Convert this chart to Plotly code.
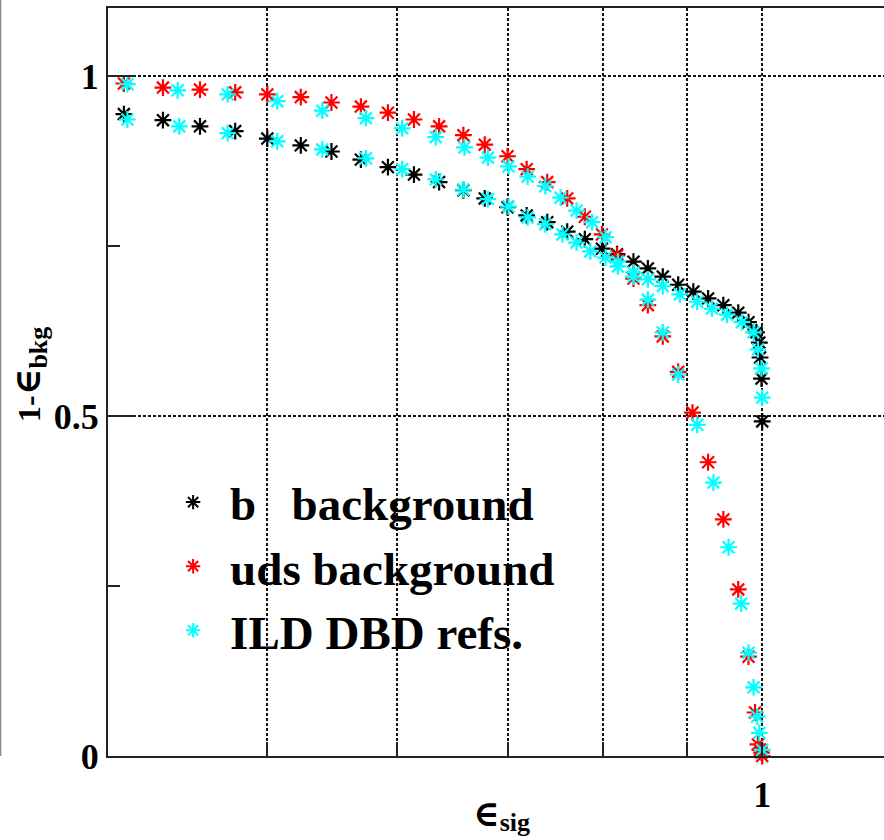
import math
import plotly.graph_objects as go

# ---- data ----
b_eff_sig = [0.409, 0.432, 0.455, 0.478, 0.500, 0.524, 0.547, 0.570, 0.592, 0.614,
             0.636, 0.658, 0.678, 0.700, 0.719, 0.740, 0.761, 0.780, 0.799, 0.816,
             0.835, 0.852, 0.870, 0.889, 0.908, 0.927, 0.947, 0.967, 0.981, 0.992,
             0.996, 0.997, 0.999, 1.000]
b_rej = [0.944, 0.935, 0.926, 0.919, 0.908, 0.898, 0.889, 0.877, 0.866, 0.855,
         0.844, 0.832, 0.820, 0.807, 0.795, 0.785, 0.771, 0.760, 0.746, 0.738,
         0.727, 0.717, 0.705, 0.693, 0.683, 0.673, 0.663, 0.652, 0.638, 0.623,
         0.608, 0.586, 0.555, 0.492]

uds_eff_sig = [0.409, 0.432, 0.455, 0.478, 0.500, 0.524, 0.547, 0.570, 0.592, 0.614,
               0.636, 0.658, 0.678, 0.700, 0.719, 0.740, 0.761, 0.780, 0.799, 0.816,
               0.835, 0.852, 0.870, 0.889, 0.907, 0.927, 0.947, 0.967, 0.981, 0.990,
               0.994, 0.997, 0.999, 1.000]
uds_rej = [0.989, 0.983, 0.980, 0.976, 0.973, 0.969, 0.961, 0.955, 0.946, 0.936,
           0.926, 0.913, 0.899, 0.882, 0.863, 0.844, 0.820, 0.793, 0.767, 0.736,
           0.702, 0.663, 0.617, 0.565, 0.505, 0.432, 0.348, 0.245, 0.146, 0.064,
           0.017, 0.009, 0.005, 0.000]

ild_b_eff_sig = [0.411, 0.442, 0.473, 0.507, 0.540, 0.574, 0.604, 0.633, 0.658, 0.681,
                 0.701, 0.720, 0.738, 0.756, 0.771, 0.786, 0.803, 0.817, 0.835, 0.852,
                 0.870, 0.891, 0.913, 0.932, 0.952, 0.972, 0.988, 0.994, 0.999, 1.000]
ild_b_rej = [0.936, 0.926, 0.916, 0.904, 0.892, 0.879, 0.863, 0.848, 0.833, 0.819,
             0.808, 0.792, 0.782, 0.767, 0.755, 0.742, 0.733, 0.720, 0.711, 0.701,
             0.691, 0.679, 0.668, 0.658, 0.649, 0.638, 0.623, 0.598, 0.570, 0.527]

ild_uds_eff_sig = [0.411, 0.441, 0.473, 0.507, 0.540, 0.574, 0.604, 0.633, 0.659, 0.681,
                   0.701, 0.720, 0.738, 0.754, 0.771, 0.788, 0.803, 0.817, 0.835, 0.852,
                   0.870, 0.889, 0.913, 0.934, 0.954, 0.971, 0.981, 0.988, 0.993, 0.996,
                   1.000]
ild_uds_rej = [0.988, 0.979, 0.973, 0.963, 0.949, 0.938, 0.923, 0.910, 0.895, 0.880,
               0.867, 0.852, 0.838, 0.821, 0.802, 0.785, 0.763, 0.727, 0.705, 0.671,
               0.623, 0.561, 0.487, 0.402, 0.307, 0.224, 0.152, 0.101, 0.058, 0.034,
               0.009]

series_names = ["b\u00a0\u00a0\u00a0background", "uds background", "ILD DBD refs."]
series_colors = ["#000000", "#ff0000", "#00ffff"]

x_tick_vals = [1.0]
x_tick_text = ["1"]
x_grid_vals = [0.5, 0.6, 0.7, 0.8, 0.9]
y_tick_vals = [0, 0.5, 1]
y_tick_text = ["0", "0.5", "1"]
y_minor_vals = [0.25, 0.75]
x_min, x_max = 0.4, 1.186
y_min, y_max = 0.0, 1.1

FONT = "Liberation Serif, Times New Roman, DejaVu Serif, serif"
GRID = dict(gridcolor="#111", gridwidth=1.5, griddash="3px,2px")


def mk(color):
    return dict(symbol="asterisk-open", size=14, color=color,
                line=dict(width=2.2, color=color))


fig = go.Figure()
fig.add_trace(go.Scatter(x=b_eff_sig, y=b_rej, mode="markers", name=series_names[0],
                         marker=mk(series_colors[0]), cliponaxis=False))
fig.add_trace(go.Scatter(x=uds_eff_sig, y=uds_rej, mode="markers", name=series_names[1],
                         marker=mk(series_colors[1]), cliponaxis=False))
fig.add_trace(go.Scatter(x=ild_b_eff_sig + ild_uds_eff_sig, y=ild_b_rej + ild_uds_rej,
                         mode="markers", name=series_names[2],
                         marker=mk(series_colors[2]), cliponaxis=False))

fig.update_layout(
    width=884, height=840,
    margin=dict(l=108, r=0, t=8, b=84),
    paper_bgcolor="white", plot_bgcolor="white",
    font=dict(family=FONT, color="black"),
    showlegend=True,
    legend=dict(x=0.062, y=0.389, xanchor="left", yanchor="top",
                font=dict(family=FONT, size=47, color="black", weight="bold"),
                itemwidth=64, bgcolor="rgba(0,0,0,0)", tracegroupgap=0,
                itemsizing="constant"),
    xaxis=dict(
        type="log", range=[math.log10(x_min), math.log10(x_max)],
        tickmode="array", tickvals=x_tick_vals, ticktext=x_tick_text,
        ticks="inside", ticklen=14, tickwidth=2, tickcolor="#222",
        minor=dict(tickmode="array", tickvals=x_grid_vals, ticks="inside",
                   ticklen=14, tickwidth=2, tickcolor="#222", showgrid=True, **GRID),
        showline=True, linecolor="#222", linewidth=2, mirror=True,
        showgrid=True, zeroline=False, ticklabelstandoff=6,
        tickfont=dict(family=FONT, size=36, color="black", weight="bold"),
        **GRID,
    ),
    yaxis=dict(
        range=[y_min, y_max],
        tickmode="array", tickvals=y_tick_vals, ticktext=y_tick_text,
        ticks="inside", ticklen=27, tickwidth=2, tickcolor="#222",
        minor=dict(tickmode="array", tickvals=y_minor_vals, ticks="inside",
                   ticklen=12, tickwidth=2, tickcolor="#222", showgrid=False),
        showline=True, linecolor="#222", linewidth=2, mirror=False,
        showgrid=True, zeroline=False, ticklabelstandoff=0,
        tickfont=dict(family=FONT, size=36, color="black", weight="bold"),
        **GRID,
    ),
    annotations=[
        dict(xref="paper", yref="paper", x=-0.1, y=0.51, textangle=-90,
             xanchor="center", yanchor="middle", showarrow=False,
             text="1-<span style='font-size:36px'>\u2208</span><sub><span style='font-size:26px'>bkg</span></sub>",
             font=dict(family=FONT, size=32, color="black", weight="bold")),
        dict(xref="paper", yref="paper", x=0.507, y=-0.08,
             xanchor="center", yanchor="middle", showarrow=False,
             text="<span style='font-size:36px'>\u2208</span><sub><span style='font-size:26px'>sig</span></sub>",
             font=dict(family=FONT, size=26, color="black", weight="bold")),
    ],
    shapes=[
        dict(type="line", xref="paper", yref="paper", x0=-0.1385, x1=-0.1385,
             y0=0.0, y1=1.012, line=dict(color="#888", width=1.5)),
    ],
)

fig.write_html("out.html")
